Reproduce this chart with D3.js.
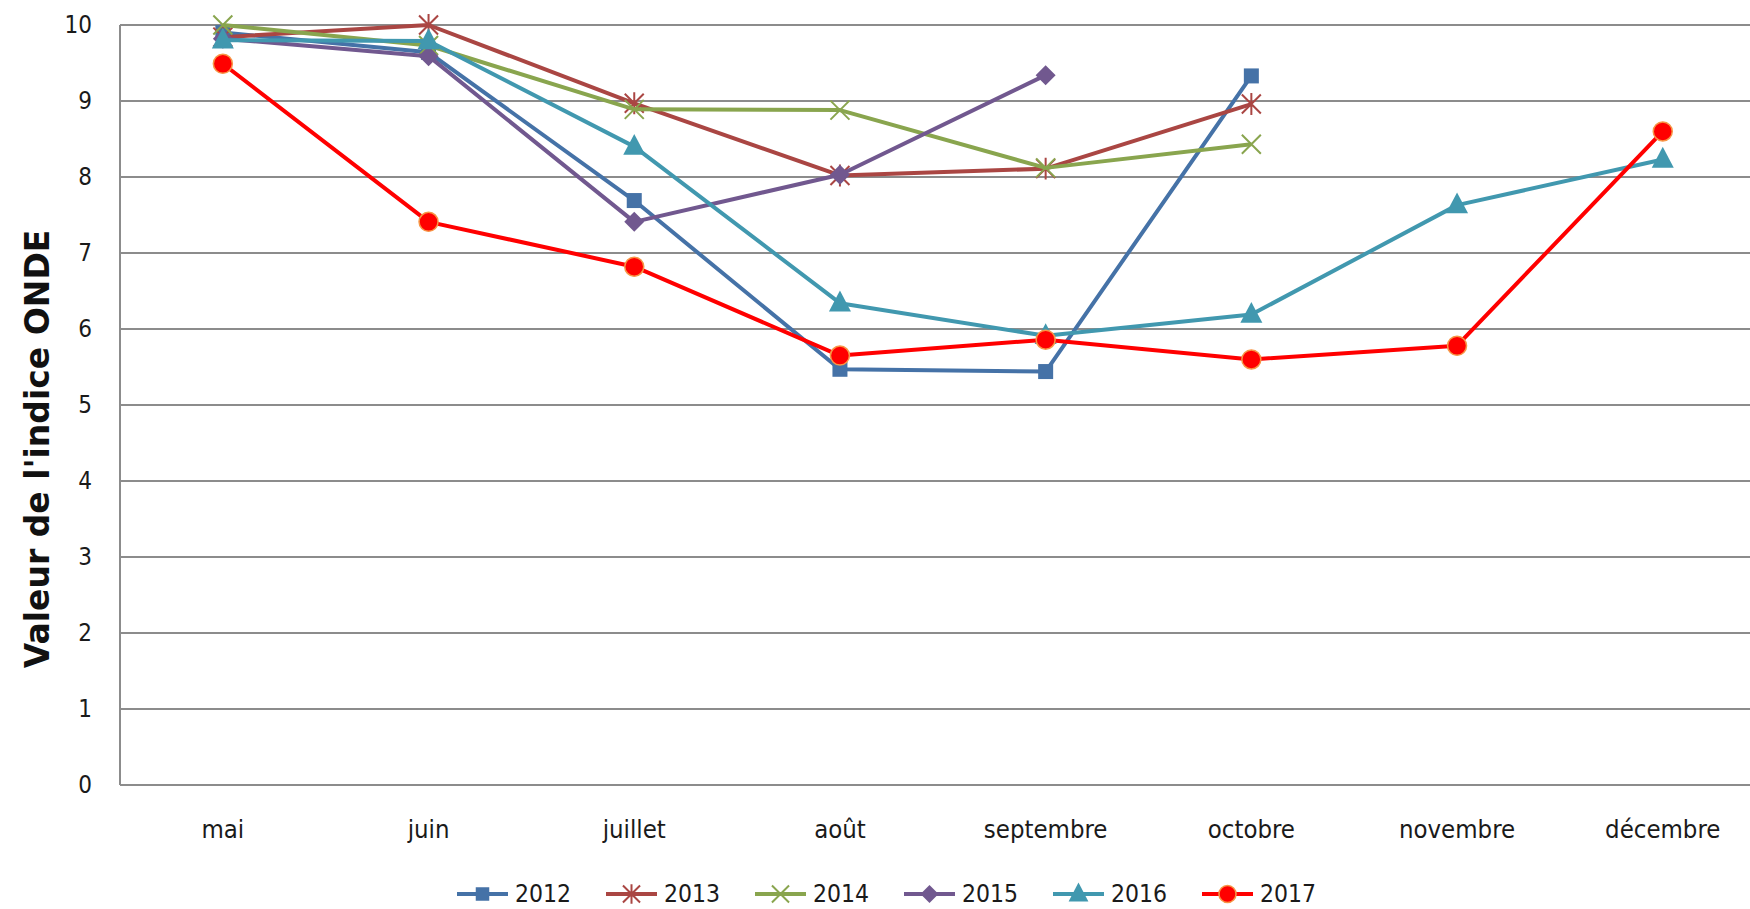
<!DOCTYPE html>
<html>
<head>
<meta charset="utf-8">
<script src="https://cdn.jsdelivr.net/npm/d3@7"></script>
<style>
  html, body { margin: 0; padding: 0; background: #fff; }
  svg { display: block; }
</style>
</head>
<body>
<svg id="chart" width="1750" height="909"></svg>
<script>
const months = ["mai", "juin", "juillet", "août", "septembre", "octobre", "novembre", "décembre"];
const yTicks = [0, 1, 2, 3, 4, 5, 6, 7, 8, 9, 10];
const years = ["2012", "2013", "2014", "2015", "2016", "2017"];
const v2012 = [9.9, 9.64, 7.69, 5.47, 5.44, 9.33, null, null];
const v2013 = [9.84, 10.0, 8.97, 8.02, 8.11, 8.96, null, null];
const v2014 = [10.0, 9.73, 8.89, 8.88, 8.12, 8.43, null, null];
const v2015 = [9.82, 9.59, 7.41, 8.03, 9.34, null, null, null];
const v2016 = [9.8, 9.79, 8.4, 6.34, 5.91, 6.19, 7.63, 8.23];
const v2017 = [9.49, 7.41, 6.82, 5.65, 5.86, 5.6, 5.78, 8.6];
const seriesValues = [v2012, v2013, v2014, v2015, v2016, v2017];
const colors = ["#4572A7", "#AA4643", "#89A54E", "#71588F", "#4198AF", "#FF0000"];
const markers = ["square", "asterisk", "cross", "diamond", "triangle", "circle"];

const svg = d3.select("#chart");
const plotLeft = 120, plotTop = 25, plotBottom = 785, bandW = 205.7;
const x = d3.scaleBand().domain(months).range([plotLeft, plotLeft + bandW * months.length]).padding(0);
const y = d3.scaleLinear().domain([0, 10]).range([plotBottom, plotTop]);
const cx = m => x(m) + x.bandwidth() / 2;

const tickFont = "'DejaVu Sans Condensed', 'DejaVu Sans', sans-serif";

// gridlines
svg.append("g").selectAll("line").data(yTicks).join("line")
  .attr("x1", plotLeft).attr("x2", 1750)
  .attr("y1", d => y(d)).attr("y2", d => y(d))
  .attr("stroke", "#8c8c8c").attr("stroke-width", 2);

// y axis line
svg.append("line").attr("x1", plotLeft).attr("x2", plotLeft).attr("y1", plotTop).attr("y2", plotBottom)
  .attr("stroke", "#8c8c8c").attr("stroke-width", 2);

// y axis labels
const yAxis = d3.axisLeft(y).tickValues(yTicks).tickSize(0).tickPadding(28).tickFormat(d3.format("d"));
const gy = svg.append("g").attr("transform", `translate(${plotLeft},0)`).call(yAxis);
gy.select(".domain").remove();
gy.selectAll("text").attr("font-family", tickFont).attr("font-size", 24).attr("fill", "#1a1a1a");

// x axis labels
const xAxis = d3.axisBottom(x).tickSize(0).tickPadding(35);
const gx = svg.append("g").attr("transform", `translate(0,${plotBottom})`).call(xAxis);
gx.select(".domain").remove();
gx.selectAll("text").attr("font-family", tickFont).attr("font-size", 25.5).attr("fill", "#1a1a1a");

// y title
svg.append("text")
  .attr("transform", `translate(49,449) rotate(-90)`)
  .attr("text-anchor", "middle")
  .attr("font-family", "'DejaVu Sans', sans-serif")
  .attr("font-weight", "bold")
  .attr("font-size", 33)
  .attr("fill", "#111")
  .text("Valeur de l'indice ONDE");

function drawMarker(g, type, color, px, py, scale = 1) {
  const s = scale;
  if (type === "square") {
    g.append("rect").attr("x", px - 7.5 * s).attr("y", py - 7.5 * s).attr("width", 15 * s).attr("height", 15 * s).attr("fill", color);
  } else if (type === "asterisk") {
    const r = 9.5 * s;
    const p = `M${px - r},${py - r}L${px + r},${py + r}M${px - r},${py + r}L${px + r},${py - r}M${px},${py - r * 1.15}L${px},${py + r * 1.15}`;
    g.append("path").attr("d", p).attr("stroke", color).attr("stroke-width", 2).attr("fill", "none");
  } else if (type === "cross") {
    const r = 9.5 * s;
    const p = `M${px - r},${py - r}L${px + r},${py + r}M${px - r},${py + r}L${px + r},${py - r}`;
    g.append("path").attr("d", p).attr("stroke", color).attr("stroke-width", 2).attr("fill", "none");
  } else if (type === "diamond") {
    const r = 10 * s;
    g.append("path").attr("d", `M${px},${py - r}L${px + r},${py}L${px},${py + r}L${px - r},${py}Z`).attr("fill", color);
  } else if (type === "triangle") {
    const r = 11 * s;
    g.append("path").attr("d", `M${px},${py - r * 1.15}L${px + r},${py + r * 0.75}L${px - r},${py + r * 0.75}Z`).attr("fill", color);
  } else if (type === "circle") {
    g.append("circle").attr("cx", px).attr("cy", py).attr("r", 9.5 * s).attr("fill", color).attr("stroke", "#F79646").attr("stroke-width", 1.5);
  }
}

const line = d3.line()
  .defined(d => d.v !== null)
  .x(d => cx(d.m))
  .y(d => y(d.v));

seriesValues.forEach((vals, i) => {
  const data = months.map((m, j) => ({ m, v: vals[j] }));
  const g = svg.append("g");
  g.append("path").datum(data).attr("d", line)
    .attr("fill", "none").attr("stroke", colors[i]).attr("stroke-width", 4)
    .attr("stroke-linejoin", "round");
  data.filter(d => d.v !== null).forEach(d => drawMarker(g, markers[i], colors[i], cx(d.m), y(d.v)));
});

// legend
const legX0 = 457, legStep = 149, legY = 894;
years.forEach((yr, i) => {
  const g = svg.append("g");
  const x0 = legX0 + i * legStep;
  g.append("line").attr("x1", x0).attr("x2", x0 + 51).attr("y1", legY).attr("y2", legY)
    .attr("stroke", colors[i]).attr("stroke-width", 4);
  drawMarker(g, markers[i], colors[i], x0 + 25.5, legY, 0.9);
  g.append("text").attr("x", x0 + 58).attr("y", legY).attr("dy", "0.33em")
    .attr("font-family", tickFont).attr("font-size", 24.5).attr("fill", "#1a1a1a").text(yr);
});
</script>
</body>
</html>
